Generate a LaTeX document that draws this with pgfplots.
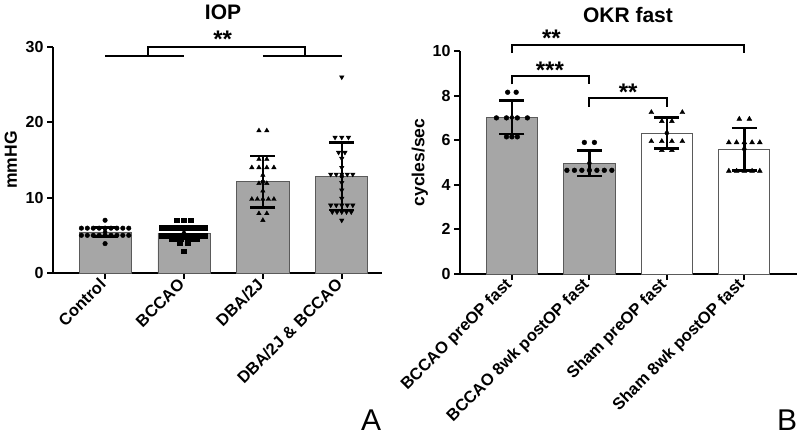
\documentclass[border=0pt]{standalone}
\usepackage{pgfplots}
\pgfplotsset{compat=1.18}
\usepackage{fontspec}
\setmainfont{Liberation Sans}
\definecolor{barfill}{HTML}{A6A6A6}
\definecolor{baredge}{HTML}{5A5A5A}
\begin{document}
\begin{tikzpicture}[x=1pt,y=1pt]
\useasboundingbox (0pt,0pt) rectangle (800pt,438pt);
\pgfplotsset{
  mystyle/.style={
    scale only axis, anchor=south west,
    axis x line*=bottom, axis y line*=left,
    axis line style={line width=2pt,-},
    tick align=outside, major tick length=6pt,
    every tick/.style={black, line width=2pt},
    yticklabel style={font=\fontsize{16}{18}\selectfont\bfseries},
    /pgf/number format/assume math mode=true,
    xtick={0,1,2,3},
    xticklabel style={rotate=45, anchor=east, font=\fontsize{16.5}{18}\selectfont\bfseries},
    ylabel style={font=\fontsize{17.5}{20}\selectfont\bfseries, anchor=center},
    clip=false,
  },
  errstyle/.style={only marks, mark=none, black, error bars/.cd, y dir=both, y explicit,
    error bar style={draw=black, line width=2.5pt},
    error mark=|,
    error mark options={draw=black, mark size=12.5pt, line width=2.5pt}},
}
% ---------------- Panel A ----------------
\begin{axis}[mystyle, at={(53pt,165pt)}, width=329pt, height=226pt,
  xmin=-0.66, xmax=3.51, ymin=0, ymax=30, ytick={0,10,20,30},
  xticklabels={Control,BCCAO,DBA/2J,DBA/2J \& BCCAO},
  ylabel={mmHG}, ylabel style={at={(axis description cs:-0.128,0.5)}}]
\addplot[ybar, bar width=0.66, fill=barfill, draw=baredge, line width=0.8pt]
  coordinates {(0,5.45) (1,5.3) (2,12.1) (3,12.85)};
% Control
\addplot[only marks, mark=*, mark size=2.3pt, black] coordinates {
 (-0.3,5.95)(-0.225,5.95)(-0.15,5.95)(-0.075,5.95)(0,5.95)(0.075,5.95)(0.15,5.95)(0.225,5.95)(0.3,5.95)
 (-0.3,5.0)(-0.225,5.0)(-0.15,5.0)(-0.075,5.0)(0,5.0)(0.075,5.0)(0.15,5.0)(0.225,5.0)(0.3,5.0)
 (0,7.0)(0,3.9)};
% BCCAO
\addplot[only marks, mark=square*, mark size=2.4pt, black] coordinates {
 (0.91,7.0)(1.0,7.0)(1.09,7.0)
 (0.72,6.0)(0.78,6.0)(0.84,6.0)(0.90,6.0)(0.96,6.0)(1.02,6.0)(1.08,6.0)(1.14,6.0)(1.20,6.0)(1.27,6.0)
 (0.72,5.0)(0.78,5.0)(0.84,5.0)(0.90,5.0)(0.96,5.0)(1.02,5.0)(1.08,5.0)(1.14,5.0)(1.20,5.0)(1.27,5.0)
 (0.84,4.55)(0.90,4.55)(0.96,4.55)(1.04,4.55)(1.10,4.55)(1.16,4.55)
 (0.95,4.0)(1.05,4.0)(1.0,2.9)};
% DBA/2J
\addplot[only marks, mark=triangle*, mark size=2.6pt, black] coordinates {
 (1.95,18.9)(2.05,18.9)
 (1.95,15.1)(2.05,15.1)
 (1.86,14.0)(1.95,14.0)(2.05,14.0)(2.14,14.0)
 (2.0,13.0)
 (1.95,11.9)(2.05,11.9)
 (2.0,10.9)
 (1.86,9.8)(1.93,9.8)(2.0,9.8)(2.07,9.8)(2.14,9.8)
 (1.95,7.9)(2.05,7.9)
 (2.0,7.0)};
% DBA/2J & BCCAO
\addplot[only marks, mark=triangle*, mark options={rotate=180}, mark size=2.6pt, black] coordinates {
 (3.0,26.0)
 (2.915,18.0)(3.0,18.0)(3.085,18.0)
 (2.96,16.0)(3.04,16.0)
 (3.0,15.2)(3.0,14.0)
 (2.86,13.1)(2.93,13.1)(3.0,13.1)(3.07,13.1)(3.14,13.1)
 (3.0,12.0)(3.0,11.0)(3.0,9.9)
 (2.86,9.0)(2.93,9.0)(3.0,9.0)(3.07,9.0)(3.14,9.0)
 (2.88,8.1)(2.94,8.1)(3.0,8.1)(3.06,8.1)(3.12,8.1)
 (3.0,7.0)};
\addplot[errstyle] coordinates {
 (0,5.45) +- (0,0.6)
 (1,5.3) +- (0,0.7)
 (2,12.1) +- (0,3.4)
 (3,12.85) +- (0,4.5)};
% significance bracket
\addplot[black, line width=2pt, mark=none] coordinates {(0.54,28.8) (0.54,30) (2.53,30) (2.53,28.8)};
\addplot[black, line width=2pt, mark=none] coordinates {(0,28.8) (1,28.8)};
\addplot[black, line width=2pt, mark=none] coordinates {(2,28.8) (3,28.8)};
\node[font=\fontsize{24}{24}\selectfont\bfseries] at (axis cs:1.49,31.0) {**};
\end{axis}
\node[font=\fontsize{21}{24}\selectfont\bfseries] at (223pt,426pt) {IOP};
\node[font=\fontsize{30}{30}\selectfont] at (371pt,18pt) {A};
% ---------------- Panel B ----------------
\begin{axis}[mystyle, at={(460pt,164pt)}, width=337pt, height=223pt,
  xmin=-0.67, xmax=3.68, ymin=0, ymax=10, ytick={0,2,4,6,8,10},
  xticklabels={BCCAO preOP fast,BCCAO 8wk postOP fast,Sham preOP fast,Sham 8wk postOP fast},
  ylabel={cycles/sec}, ylabel style={at={(axis description cs:-0.119,0.5)}}]
\addplot[ybar, bar width=0.66, fill=barfill, draw=baredge, line width=0.8pt]
  coordinates {(0,7.02) (1,4.97)};
\addplot[ybar, bar width=0.66, fill=white, draw=baredge, line width=0.8pt]
  coordinates {(2,6.32) (3,5.6)};
\addplot[only marks, mark=*, mark size=2.4pt, black] coordinates {
 (-0.055,8.15)(0.055,8.15)
 (-0.2,7.0)(-0.07,7.0)(0.07,7.0)(0.2,7.0)
 (-0.07,6.15)(0,6.15)(0.07,6.15)
 (0.935,5.9)(1.065,5.9)
 (0.71,4.65)(0.807,4.65)(0.903,4.65)(1.0,4.65)(1.097,4.65)(1.193,4.65)(1.29,4.65)};
\addplot[only marks, mark=triangle*, mark size=2.8pt, black] coordinates {
 (1.8,7.25)(2.2,7.25)
 (1.935,6.85)(2.065,6.85)
 (1.8,5.95)(1.935,5.95)(2.065,5.95)(2.2,5.95)
 (1.935,5.55)(2.065,5.55)
 (2.935,6.95)(3.065,6.95)
 (2.8,5.9)(2.9,5.9)(3.0,5.9)(3.1,5.9)(3.2,5.9)
 (2.8,4.62)(2.9,4.62)(3.0,4.62)(3.1,4.62)(3.2,4.62)};
\addplot[errstyle] coordinates {
 (0,7.02) +- (0,0.75)
 (1,4.97) +- (0,0.57)
 (2,6.32) +- (0,0.7)
 (3,5.6) +- (0,0.95)};
% brackets
\addplot[black, line width=2pt, mark=none] coordinates {(0,9.9) (0,10.27) (3,10.27) (3,9.9)};
\addplot[black, line width=2pt, mark=none] coordinates {(0,8.5) (0,8.9) (1,8.9) (1,8.5)};
\addplot[black, line width=2pt, mark=none] coordinates {(1,7.5) (1,7.9) (2,7.9) (2,7.5)};
\node[font=\fontsize{24}{24}\selectfont\bfseries] at (axis cs:0.51,10.55) {**};
\node[font=\fontsize{24}{24}\selectfont\bfseries] at (axis cs:0.49,9.15) {***};
\node[font=\fontsize{24}{24}\selectfont\bfseries] at (axis cs:1.5,8.15) {**};
\end{axis}
\node[font=\fontsize{21}{24}\selectfont\bfseries] at (628pt,423pt) {OKR fast};
\node[font=\fontsize{30}{30}\selectfont] at (787pt,18pt) {B};
\end{tikzpicture}
\end{document}
